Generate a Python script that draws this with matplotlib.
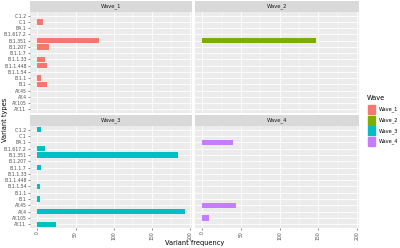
import numpy as np
import matplotlib
matplotlib.use("Agg")
from matplotlib import pyplot as plt
from matplotlib.patches import Rectangle

# variant types, listed top to bottom as they appear on the y axis
variants = ["C.1.2", "C.1", "BA.1", "B.1.617.2", "B.1.351", "B.1.207", "B.1.1.7",
            "B.1.1.33", "B.1.1.448", "B.1.1.54", "B.1.1", "B.1", "AY.45", "AY.4",
            "AY.105", "AY.11"]

waves = ["Wave_1", "Wave_2", "Wave_3", "Wave_4"]
colors = ["#F8766D", "#7CAE00", "#00BFC4", "#C77CFF"]

wave_1 = [0, 7, 0, 0, 81, 15, 0, 10, 13, 0, 5, 13, 0, 0, 0, 0]
wave_2 = [0, 0, 0, 0, 147, 0, 0, 0, 0, 0, 0, 0, 0, 0, 0, 0]
wave_3 = [5, 0, 0, 10, 184, 0, 5, 0, 0, 4, 0, 4, 0, 193, 0, 25]
wave_4 = [0, 0, 40, 0, 0, 0, 0, 0, 0, 0, 0, 0, 44, 0, 8, 0]
values = [wave_1, wave_2, wave_3, wave_4]

x_ticks = [0, 50, 100, 150, 200]

W, H = 400, 248
fig = plt.figure(figsize=(W / 100, H / 100), dpi=100)


def box(x0, y0, x1, y1):
    # pixel box -> figure fraction
    return [x0 / W, 1 - y1 / H, (x1 - x0) / W, (y1 - y0) / H]


cols = [(30, 192), (195, 359)]
rows = [(1, 12, 113), (115, 126, 228)]

ypos = np.arange(len(variants))[::-1]
xmax = max(max(v) for v in values)
pad = 0.05 * xmax

for i, name in enumerate(waves):
    r, c = divmod(i, 2)
    x0, x1 = cols[c]
    s0, p0, p1 = rows[r]

    ax = fig.add_axes(box(x0, p0, x1, p1))
    ax.set_facecolor("#EBEBEB")
    ax.barh(ypos, values[i], height=0.85, color=colors[i], zorder=3)
    ax.set_xlim(-pad, xmax + pad)
    ax.set_ylim(-0.6, len(variants) - 0.4)
    ax.set_xticks(x_ticks)
    ax.set_xticks([25, 75, 125, 175], minor=True)
    ax.set_yticks(ypos)
    ax.grid(True, which="major", color="white", lw=0.6, zorder=1)
    ax.grid(True, which="minor", axis="x", color="white", lw=0.3, zorder=1)
    for sp in ax.spines.values():
        sp.set_visible(False)
    ax.tick_params(which="minor", length=0)
    ax.tick_params(which="major", length=1.5, width=0.4, color="#333333",
                   labelsize=3.3, labelcolor="#4D4D4D", pad=1)
    if c == 0:
        ax.set_yticklabels(variants)
    else:
        ax.set_yticklabels([])
        ax.tick_params(axis="y", length=0)
    if r == 1:
        ax.set_xticklabels([str(t) for t in x_ticks], rotation=90)
    else:
        ax.set_xticklabels([])
        ax.tick_params(axis="x", length=0)

    sax = fig.add_axes(box(x0, s0, x1, p0))
    sax.set_facecolor("#D9D9D9")
    sax.set_xticks([])
    sax.set_yticks([])
    for sp in sax.spines.values():
        sp.set_visible(False)
    sax.text(0.5, 0.5, name, ha="center", va="center", fontsize=3.8,
             color="#1A1A1A", transform=sax.transAxes)

fig.text(195 / W, 1 - 243 / H, "Variant frequency", ha="center", va="center",
         fontsize=4.8)
fig.text(5 / W, 1 - 120 / H, "Variant types", ha="center", va="center",
         rotation=90, fontsize=4.8)

# legend
fig.text(367 / W, 1 - 98 / H, "Wave", ha="left", va="center", fontsize=4.8)
for i, name in enumerate(waves):
    yc = 109.5 + i * 10.7
    fig.patches.append(Rectangle((368 / W, 1 - (yc + 4.5) / H), 7 / W, 9 / H,
                                 transform=fig.transFigure, color=colors[i]))
    fig.text(379 / W, 1 - yc / H, name, ha="left", va="center", fontsize=3.6)

fig.savefig("out.png", dpi=100)
